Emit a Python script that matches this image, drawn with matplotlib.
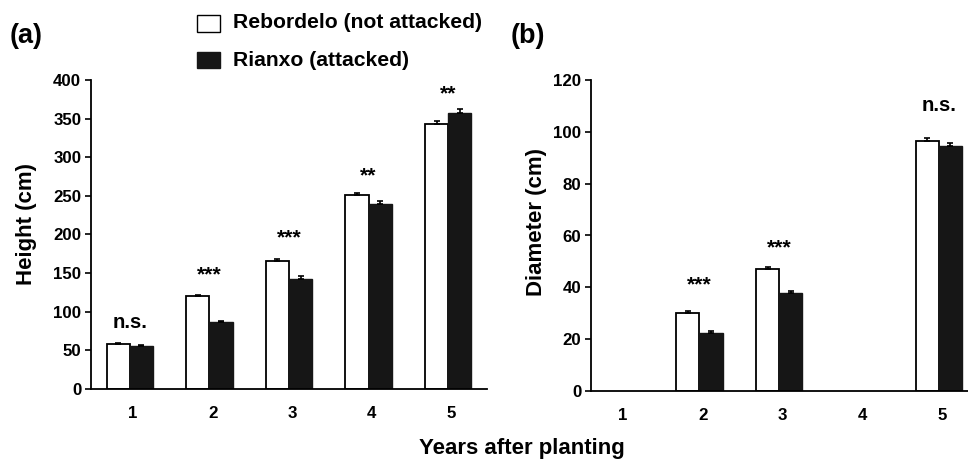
import matplotlib
matplotlib.use("Agg")
import matplotlib.pyplot as plt
import numpy as np
from matplotlib.patches import Rectangle

plt.rcParams['font.family'] = ['Liberation Sans', 'DejaVu Sans']
plt.rcParams['font.weight'] = 'bold'

years = [1, 2, 3, 4, 5]
year_labels = ["1", "2", "3", "4", "5"]

# Panel (a): height (cm)
height_reb = [58, 120, 166, 251, 343]
height_reb_err = [1.5, 1.5, 2.5, 3, 4]
height_rian = [56, 87, 143, 239, 357]
height_rian_err = [1, 1.5, 3, 4, 5]
height_sig = ["n.s.", "***", "***", "**", "**"]
height_sig_y = [79, 141, 188, 269, 375]

# Panel (b): diameter (cm); no measurements in years 1 and 4
diam_reb = [np.nan, 30, 47, np.nan, 96.5]
diam_reb_err = [0, 0.7, 0.8, 0, 1.0]
diam_rian = [np.nan, 22.5, 38, np.nan, 94.5]
diam_rian_err = [0, 0.6, 0.5, 0, 1.2]
diam_sig = ["", "***", "***", "", "n.s."]
diam_sig_y = [np.nan, 38.7, 53, np.nan, 108]

fig = plt.figure(figsize=(9.68, 4.61), dpi=100)
W, H = 968, 461
ax1 = fig.add_axes([91 / W, 1 - 389 / H, (487 - 91) / W, (389 - 80) / H])
ax2 = fig.add_axes([591 / W, 1 - 391 / H, (985 - 591) / W, (391 - 80) / H])

bw = 0.29
dark = '#161616'
tick_fs = 12.2


def draw(ax, reb, reb_err, rian, rian_err, sig, sig_y, ylim, yticks, xlim):
    x = np.array(years, dtype=float)
    xc = x - 0.04
    ekw = dict(ecolor='black', capsize=2.5, elinewidth=1.2, capthick=1.2)
    ax.bar(xc - bw / 2, reb, bw, color='white', edgecolor='black', linewidth=1.3,
           yerr=[np.zeros(len(reb)), reb_err], error_kw=ekw, zorder=2)
    ax.bar(xc + bw / 2, rian, bw, color=dark, edgecolor=dark, linewidth=1.0,
           yerr=[np.zeros(len(rian)), rian_err], error_kw=ekw, zorder=2)
    for xi, s, sy in zip(x, sig, sig_y):
        if s:
            ax.text(xi - 0.04, sy, s, ha='center', va='baseline',
                    fontsize=14.6 if s == 'n.s.' else 15.4, fontweight='bold')
    ax.set_ylim(*ylim)
    ax.set_xlim(*xlim)
    ax.set_yticks(yticks)
    ax.set_yticklabels([str(t) for t in yticks], fontsize=tick_fs, fontweight='bold')
    ax.set_xticks(years)
    ax.set_xticklabels(year_labels, fontsize=tick_fs, fontweight='bold')
    ax.tick_params(axis='x', length=0, pad=12)
    ax.tick_params(axis='y', direction='out', length=4, width=1.2, pad=3)
    for side in ['top', 'right']:
        ax.spines[side].set_visible(False)
    for side in ['left', 'bottom']:
        ax.spines[side].set_linewidth(1.3)


draw(ax1, height_reb, height_reb_err, height_rian, height_rian_err, height_sig, height_sig_y,
     (0, 400), [0, 50, 100, 150, 200, 250, 300, 350, 400], (0.47, 5.45))
draw(ax2, diam_reb, diam_reb_err, diam_rian, diam_rian_err, diam_sig, diam_sig_y,
     (0, 120), [0, 20, 40, 60, 80, 100, 120], (0.6, 5.54))

ax1.set_ylabel("Height (cm)", fontsize=16, fontweight='bold')
ax1.yaxis.set_label_coords(-0.136, 0.534)
ax2.set_ylabel("Diameter (cm)", fontsize=16, fontweight='bold')
ax2.yaxis.set_label_coords(-0.112, 0.543)

fig.text(522 / W, 1 - 448 / H, "Years after planting", ha='center', va='center', fontsize=16, fontweight='bold')
fig.text(10 / W, 1 - 36 / H, "(a)", ha='left', va='center', fontsize=19.5, fontweight='bold')
fig.text(511 / W, 1 - 36 / H, "(b)", ha='left', va='center', fontsize=19.5, fontweight='bold')

# legend
fig.patches.append(Rectangle((197 / W, 1 - 32 / H), 23 / W, 17 / H, transform=fig.transFigure,
                             facecolor='white', edgecolor='black', linewidth=1.0))
fig.patches.append(Rectangle((197 / W, 1 - 68 / H), 23 / W, 16 / H, transform=fig.transFigure,
                             facecolor=dark, edgecolor=dark, linewidth=1.0))
fig.text(233 / W, 1 - 23 / H, "Rebordelo (not attacked)", ha='left', va='center', fontsize=15.2, fontweight='bold')
fig.text(233 / W, 1 - 61 / H, "Rianxo (attacked)", ha='left', va='center', fontsize=15.2, fontweight='bold')

fig.savefig("out.png", dpi=100)
